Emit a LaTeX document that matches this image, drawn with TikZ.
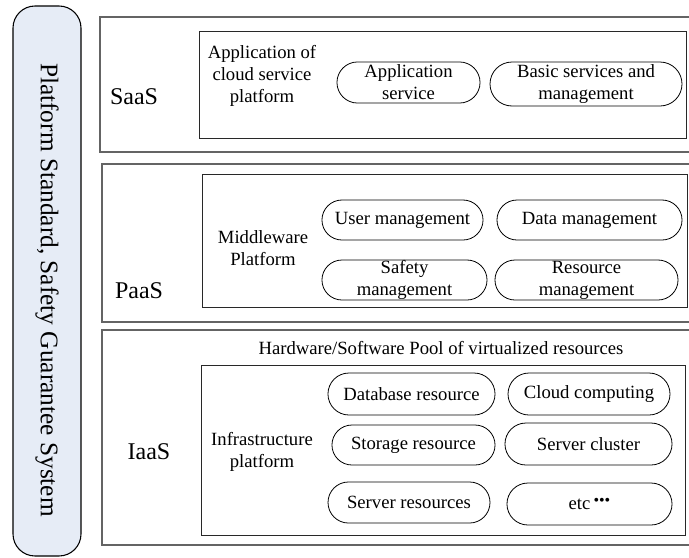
\documentclass[tikz,border=0pt]{standalone}
\usepackage{fontspec}
\setmainfont{Liberation Serif}
\usetikzlibrary{shapes.misc}
\definecolor{barfill}{RGB}{230,236,246}
\definecolor{outergray}{RGB}{100,100,100}
\definecolor{innergray}{RGB}{40,40,40}
\begin{document}
\begin{tikzpicture}[x=0.75pt,y=-0.75pt,
  layer/.style={draw=outergray, line width=1.1pt},
  inner/.style={draw=innergray, line width=0.75pt},
  pill/.style={draw, line width=0.6pt, rounded rectangle, inner sep=0pt, align=center,
    font=\fontsize{14}{16.5}\selectfont},
  lbl/.style={align=center, font=\fontsize{14}{16.5}\selectfont},
  big/.style={font=\fontsize{18}{21}\selectfont}]
\clip (0,0) rectangle (689,557);
% vertical bar
\draw[fill=barfill, line width=0.8pt, rounded corners=16.5pt] (13,6) rectangle (81,556);
\node[rotate=-90, font=\fontsize{19}{22}\selectfont] (std) at (47,290) {Platform Standard, Safety Guarantee System};
% layers
\draw[layer] (100,17) rectangle (700,152);
\draw[layer] (102,164) rectangle (700,322);
\draw[layer] (102,330) rectangle (700,545);
% inner boxes
\draw[inner] (199,31) rectangle (686,138);
\draw[inner] (202,174) rectangle (687,307);
\draw[inner] (201,365) rectangle (685,535);
% layer labels
\node[big] (saas) at (134,97) {SaaS};
\node[big] (paas) at (139,291) {PaaS};
\node[big] (iaas) at (149,452) {IaaS};
% inner labels
\node[lbl] (appl) at (262,76) {Application of\\cloud service\\platform};
\node[lbl] (mid) at (263,248) {Middleware\\Platform};
\node[lbl] (infra) at (262,452) {Infrastructure\\platform};
\node[lbl] (pool) at (441,348) {Hardware/Software Pool of virtualized resources};
% SaaS pills
\node[pill, minimum width=107.3pt, minimum height=30.8pt] (as) at (408.5,82.5) {Application\\service};
\node[pill, minimum width=144pt, minimum height=33pt] (bs) at (586,84) {Basic services and\\management};
% PaaS pills
\node[pill, minimum width=120.8pt, minimum height=30pt] (um) at (402.5,220) {User management};
\node[pill, minimum width=138.8pt, minimum height=30pt] (dm) at (589.5,220) {Data management};
\node[pill, minimum width=123.8pt, minimum height=30pt] (sm) at (404.5,280) {Safety\\management};
\node[pill, minimum width=137.3pt, minimum height=30pt] (rm) at (586.5,280) {Resource\\management};
% IaaS pills
\node[pill, minimum width=125.3pt, minimum height=31.5pt] (db) at (411.5,394) {Database resource};
\node[pill, minimum width=121.5pt, minimum height=31.5pt] (cc) at (589,394) {Cloud computing};
\node[pill, minimum width=122.3pt, minimum height=30pt] (sr) at (413.5,445) {Storage resource};
\node[pill, minimum width=125.3pt, minimum height=31.5pt] (sc) at (588.5,444) {Server cluster};
\node[pill, minimum width=121.5pt, minimum height=30.8pt] (svr) at (409,502.5) {Server resources};
\node[pill, minimum width=123.8pt, minimum height=31.5pt] (etc) at (589.5,504) {etc\,\raisebox{2.5pt}{\fontsize{12}{12}\selectfont •••}};
\end{tikzpicture}
\end{document}
